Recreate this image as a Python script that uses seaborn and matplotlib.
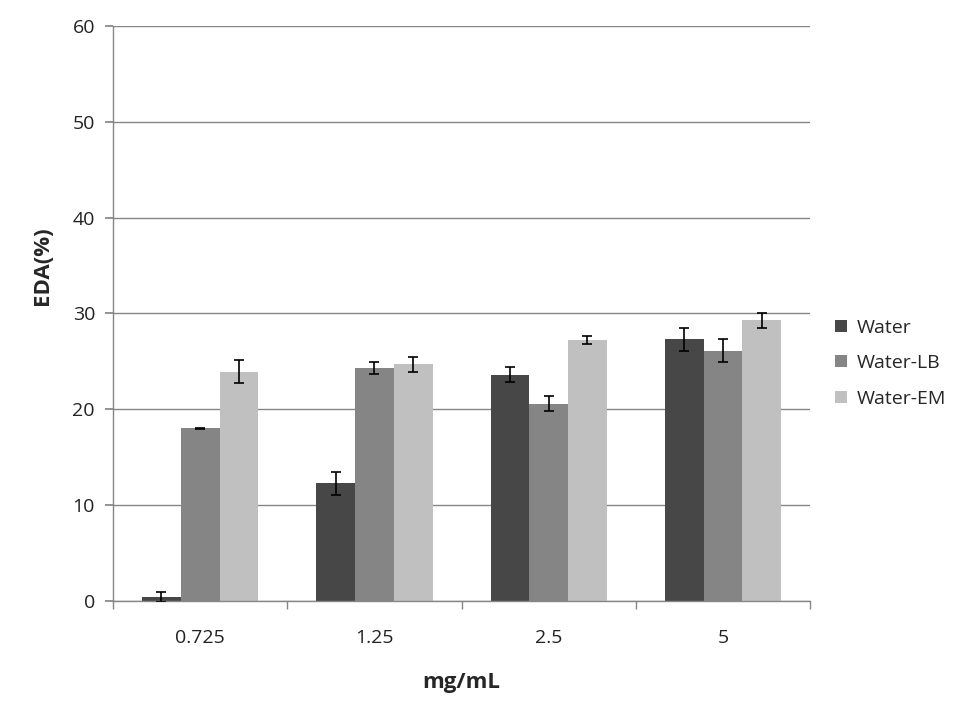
import numpy as np
import pandas as pd
import matplotlib
matplotlib.use("Agg")
import matplotlib.pyplot as plt
import seaborn as sns

concentrations = ["0.725", "1.25", "2.5", "5"]
groups = ["Water", "Water-LB", "Water-EM"]
water = [0.4, 12.3, 23.6, 27.3]
water_lb = [18.0, 24.3, 20.6, 26.1]
water_em = [23.9, 24.7, 27.2, 29.3]
water_err = [0.5, 1.2, 0.8, 1.2]
water_lb_err = [0.05, 0.6, 0.75, 1.2]
water_em_err = [1.2, 0.8, 0.4, 0.8]
colors = ["#474747", "#858585", "#c0c0c0"]

values = {"Water": water, "Water-LB": water_lb, "Water-EM": water_em}
errors = {"Water": water_err, "Water-LB": water_lb_err, "Water-EM": water_em_err}

df = pd.DataFrame(
    [(c, g, values[g][i]) for g in groups for i, c in enumerate(concentrations)],
    columns=["conc", "group", "eda"],
)

sns.set_theme(style="white")
plt.rcParams["font.family"] = ["Open Sans", "DejaVu Sans"]

fig = plt.figure(figsize=(9.62, 7.22), dpi=100)
ax = fig.add_axes([0.1175, 0.1676, 0.7245, 0.7964])

sns.barplot(data=df, x="conc", y="eda", hue="group", order=concentrations,
            hue_order=groups, palette=colors, width=0.667, saturation=1,
            errorbar=None, ax=ax, linewidth=0)

# error bars drawn on top of the seaborn bars
for cont, g in zip(ax.containers, groups):
    xs = [b.get_x() + b.get_width() / 2 for b in cont]
    ax.errorbar(xs, values[g], yerr=errors[g], fmt="none", ecolor="black",
                elinewidth=1.2, capsize=3.5, capthick=1.2, zorder=5)

ax.set_ylim(0, 60)
ax.set_xlim(-0.5, 3.5)
ax.set_yticks(range(0, 61, 10))
ax.yaxis.grid(True, color="#868686", linewidth=1)
ax.set_axisbelow(True)
for s in ["top", "right"]:
    ax.spines[s].set_visible(False)
for s in ["left", "bottom"]:
    ax.spines[s].set_color("#868686")
    ax.spines[s].set_linewidth(1)

ax.tick_params(axis="y", which="major", left=True, length=6, color="#868686",
               labelsize=14, pad=7, labelcolor="#222222")
ax.tick_params(axis="x", which="major", bottom=False, labelsize=14, pad=14,
               labelcolor="#222222")
ax.set_xticks(np.arange(-0.5, 4, 1), minor=True)
ax.tick_params(axis="x", which="minor", bottom=True, length=6, color="#868686")

ax.set_xlabel("mg/mL", fontsize=16, fontweight="bold", labelpad=18)
ax.set_ylabel("EDA(%)", fontsize=16, fontweight="bold")
ax.yaxis.set_label_coords(-0.086, 0.583)

handles, labels = ax.get_legend_handles_labels()
ax.legend(handles, labels, loc="center left", bbox_to_anchor=(0.85, 0.497),
          bbox_transform=fig.transFigure, frameon=False, fontsize=14,
          handlelength=0.6, handleheight=0.6, handletextpad=0.5,
          labelspacing=0.9)

fig.savefig("out.png", dpi=100)
